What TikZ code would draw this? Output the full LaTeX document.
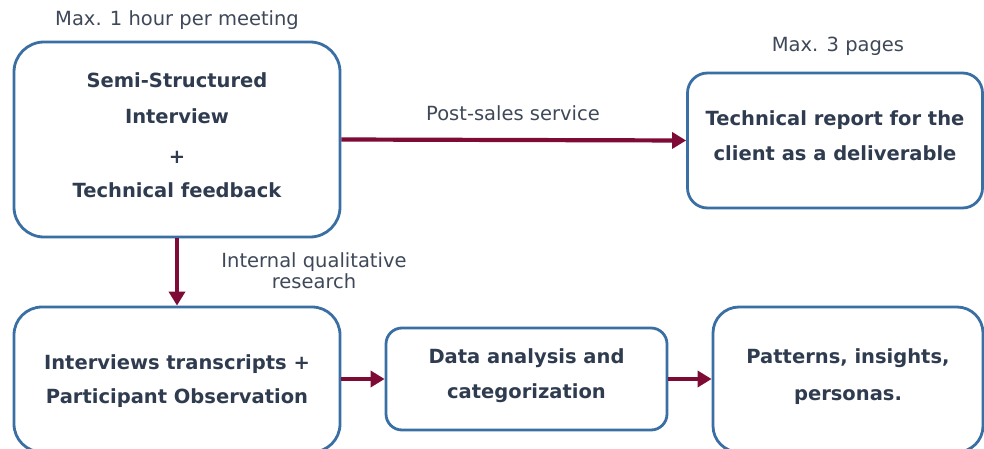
\documentclass[tikz,border=0pt]{standalone}
\usepackage{fontspec}
\setmainfont{DejaVu Sans}
\usetikzlibrary{arrows.meta}
\definecolor{boxblue}{HTML}{3A6FA3}
\definecolor{txtnavy}{HTML}{2F3B4F}
\definecolor{lblgray}{HTML}{3E4858}
\definecolor{arrred}{HTML}{7D0B35}
\tikzset{
  box/.style={draw=boxblue, line width=2.8pt, inner sep=0pt},
  btxt/.style={inner sep=0pt, align=center, text=txtnavy,
    font=\fontsize{19.5}{35}\selectfont\bfseries},
  lbl/.style={text=lblgray, inner sep=0pt, align=center, font=\fontsize{19.5}{21}\selectfont},
  conn/.style={draw=arrred, line width=4.2pt, -{Triangle[length=14pt,width=16pt]}}
}
\begin{document}
\begin{tikzpicture}[x=1pt,y=-1pt]
\useasboundingbox (0,0) rectangle (984,449);
\node[box, rounded corners=30pt, minimum width=326pt, minimum height=195pt] (sem) at (177,139.5) {};
\node[box, rounded corners=20pt, minimum width=295pt, minimum height=135pt] (rep) at (835,140.5) {};
\node[box, rounded corners=28pt, minimum width=326pt, minimum height=145pt] (tra) at (177,379.5) {};
\node[box, rounded corners=16pt, minimum width=281pt, minimum height=102pt] (dat) at (526.5,379) {};
\node[box, rounded corners=26pt, minimum width=270pt, minimum height=145pt] (pat) at (848,379.5) {};
\node[btxt, font=\fontsize{19.5}{36}\selectfont\bfseries] (semt) at ([yshift=4.5pt]sem.center)
  {Semi-Structured\\Interview\\[4pt]+\\[-2pt]Technical feedback};
\node[btxt] (rept) at ([yshift=5pt]rep.center) {Technical report for the\\client as a deliverable};
\node[btxt, font=\fontsize{19.5}{34}\selectfont\bfseries] (trat) at ([yshift=-1.5pt]tra.center)
  {Interviews transcripts +\\Participant Observation};
\node[btxt] (datt) at ([yshift=3pt]dat.center) {Data analysis and\\categorization};
\node[btxt, font=\fontsize{19.5}{37}\selectfont\bfseries] (patt) at ([yshift=3pt]pat.center)
  {Patterns, insights,\\personas.};
\node[lbl] (l1) at (177,20) {Max. 1 hour per meeting};
\node[lbl] (l2) at (838,46.5) {Max. 3 pages};
\node[lbl] (l3) at (513,113) {Post-sales service};
\node[lbl] (l4) at (314,271) {Internal qualitative\\research};
\draw[conn] (sem.east) -- (rep.west);
\draw[conn] (sem.south) -- (tra.north);
\draw[conn] (tra.east |- dat.west) -- (dat.west);
\draw[conn] (dat.east) -- (pat.west |- dat.east);
\end{tikzpicture}
\end{document}
